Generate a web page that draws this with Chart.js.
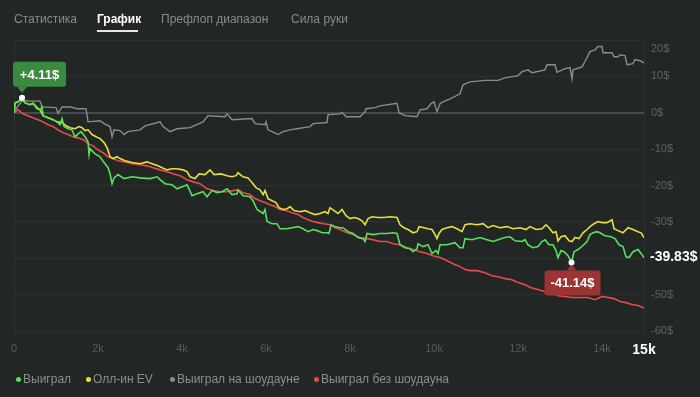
<!DOCTYPE html>
<html>
<head>
<meta charset="utf-8">
<script src="https://cdn.jsdelivr.net/npm/chart.js@4.4.1/dist/chart.umd.min.js"></script>
<style>
  body { margin: 0; background: #222726; font-family: "Liberation Sans", Arial, sans-serif; }
  #wrap { position: relative; width: 700px; height: 397px; overflow: hidden; }
  canvas { position: absolute; left: 0; top: 0; }
  .tab { position: absolute; top: 12px; font-size: 12px; color: #878c8a; white-space: nowrap; }
  .tab.active { color: #ffffff; font-weight: bold; }
  .underline { position: absolute; left: 97px; top: 30px; width: 41px; height: 2px; background: #e6e6e6; }
  .leg { position: absolute; top: 372px; font-size: 12px; color: #8a8f8d; white-space: nowrap; }
  .leg i { position: absolute; left: -7px; top: 5px; width: 5px; height: 5px; border-radius: 50%; }
</style>
</head>
<body>
<div id="wrap">
  <canvas id="graph" width="700" height="397"></canvas>
  <div class="tab" style="left:14px">Статистика</div>
  <div class="tab active" style="left:97px">График</div>
  <div class="underline"></div>
  <div class="tab" style="left:161px">Префлоп диапазон</div>
  <div class="tab" style="left:291px">Сила руки</div>
  <div class="leg" style="left:23px"><i style="background:#58e05b"></i>Выиграл</div>
  <div class="leg" style="left:93px"><i style="background:#e8de3e"></i>Олл-ин EV</div>
  <div class="leg" style="left:177px"><i style="background:#8c8c8c"></i>Выиграл на шоудауне</div>
  <div class="leg" style="left:321px"><i style="background:#e84a4c"></i>Выиграл без шоудауна</div>
</div>
<script>
// tick values
const xTicks = [0, 2000, 4000, 6000, 8000, 10000, 12000, 14000, 15000];
const yTicks = [-60, -50, -40, -30, -20, -10, 0, 10, 20];

// Выиграл (green)
const winHands = [0, 24, 95, 190, 262, 381, 452, 548, 619, 667, 690, 810, 929, 1024, 1095, 1143, 1190, 1286, 1381, 1452,
  1524, 1595, 1690, 1762, 1786, 1810, 1929, 2048, 2143, 2238, 2286, 2333, 2381, 2476, 2619, 2810, 3000, 3238, 3405, 3476,
  3595, 3762, 3881, 4024, 4119, 4238, 4357, 4500, 4595, 4714, 4833, 4952, 5071, 5190, 5310, 5333, 5452, 5619, 5690, 5786,
  5929, 5976, 6024, 6143, 6262, 6333, 6476, 6619, 6762, 6881, 7000, 7119, 7214, 7333, 7452, 7500, 7548, 7643, 7762, 7833,
  7952, 8071, 8190, 8310, 8357, 8405, 8548, 8714, 8881, 9024, 9119, 9190, 9310, 9429, 9500, 9595, 9619, 9738, 9857, 9952,
  10048, 10095, 10143, 10310, 10500, 10619, 10690, 10738, 10905, 11095, 11262, 11405, 11524, 11690, 11810, 11929, 12095, 12167, 12238, 12357,
  12476, 12571, 12643, 12738, 12833, 12905, 12952, 13024, 13095, 13190, 13274, 13333, 13429, 13548, 13643, 13714, 13786, 13881, 13952, 14071,
  14214, 14310, 14405, 14500, 14571, 14643, 14738, 14857, 14929, 15000];
const winValues = [0, 2.7, 3.0, 4.11, 2.7, 2.2, 2.6, 1.1, 0.8, 1.6, -0.8, -1.4, -1.9, -2.5, -3.3, -1.6, -3.8, -4.4, -4.7, -6.6,
  -5.8, -5.2, -6.6, -8.0, -11.5, -9.9, -11.3, -12.1, -13.7, -15.1, -16.8, -19.5, -17.9, -17.0, -18.1, -17.6, -17.9, -18.1, -17.6, -18.4,
  -19.5, -19.8, -20.9, -20.3, -19.8, -22.8, -22.3, -21.7, -23.1, -21.4, -22.0, -21.7, -20.9, -22.5, -22.3, -21.2, -22.8, -23.1, -24.2, -26.6,
  -27.7, -26.6, -29.9, -30.5, -30.5, -31.9, -31.9, -31.6, -31.3, -31.9, -32.7, -32.1, -32.4, -33.0, -33.0, -33.2, -30.8, -31.3, -31.6, -31.6,
  -32.7, -33.2, -34.3, -34.6, -35.4, -33.2, -33.5, -33.2, -33.2, -33.0, -33.2, -36.3, -37.1, -37.4, -38.2, -37.4, -36.0, -36.8, -36.3, -38.7,
  -37.9, -38.7, -36.3, -36.3, -35.7, -37.1, -37.1, -34.6, -34.9, -34.3, -34.9, -35.4, -34.9, -34.3, -34.1, -35.2, -35.4, -34.9, -36.3, -37.1,
  -36.8, -35.4, -34.9, -36.3, -36.3, -37.9, -39.8, -37.9, -38.2, -39.3, -41.14, -38.2, -37.6, -36.5, -35.4, -33.5, -33.0, -32.7, -33.0, -33.8,
  -34.1, -34.6, -36.3, -36.8, -39.6, -39.8, -38.2, -37.6, -38.7, -39.83];

// Олл-ин EV (yellow)
const evHands = [0, 24, 95, 190, 262, 381, 452, 548, 619, 690, 810, 929, 1024, 1143, 1238, 1333, 1452, 1548, 1619, 1690,
  1762, 1857, 1952, 2048, 2143, 2214, 2286, 2357, 2452, 2524, 2643, 2810, 3000, 3167, 3286, 3429, 3524, 3643, 3762, 3881,
  4024, 4119, 4190, 4310, 4405, 4548, 4667, 4762, 4929, 5071, 5190, 5286, 5333, 5452, 5571, 5643, 5690, 5762, 5857, 5929,
  5976, 6048, 6143, 6238, 6310, 6405, 6500, 6571, 6667, 6810, 6929, 7048, 7167, 7286, 7405, 7476, 7524, 7619, 7714, 7810,
  7905, 8000, 8095, 8190, 8286, 8357, 8429, 8524, 8667, 8810, 8952, 9119, 9190, 9286, 9381, 9500, 9595, 9643, 9762, 9857,
  9952, 10024, 10071, 10119, 10190, 10310, 10429, 10548, 10667, 10738, 10857, 11024, 11167, 11286, 11405, 11571, 11738, 11881, 12048, 12190,
  12286, 12429, 12571, 12667, 12738, 12833, 12905, 12952, 13024, 13119, 13214, 13286, 13357, 13452, 13548, 13643, 13714, 13810, 13905, 14000,
  14119, 14238, 14286, 14381, 14500, 14619, 14738, 14857, 14929, 15000];
const evValues = [0, 2.7, 3.0, 3.8, 2.7, 2.2, 2.6, 1.4, 0.8, -0.8, -1.4, -1.9, -2.5, -2.7, -3.6, -4.1, -4.4, -3.8, -4.1, -4.9,
  -4.7, -6.0, -6.6, -7.1, -8.2, -9.6, -12.1, -12.6, -12.1, -12.6, -13.2, -13.7, -14.0, -13.5, -14.0, -14.6, -15.1, -15.7, -15.4, -15.4,
  -15.7, -16.2, -17.6, -18.1, -16.8, -17.0, -15.7, -17.0, -16.8, -17.3, -17.6, -17.3, -16.5, -17.6, -17.9, -18.9, -19.5, -20.6, -21.2, -22.5,
  -21.4, -23.6, -24.2, -24.7, -26.1, -26.6, -26.4, -25.8, -26.9, -27.2, -26.9, -27.5, -28.0, -27.7, -27.2, -27.7, -26.1, -26.9, -27.7, -26.6,
  -28.3, -29.1, -28.8, -29.1, -29.7, -30.8, -29.1, -28.6, -28.8, -28.8, -28.6, -28.8, -30.8, -31.6, -32.1, -33.0, -32.7, -31.3, -31.6, -31.9,
  -32.1, -33.5, -34.6, -33.2, -32.1, -31.6, -31.3, -31.9, -32.7, -30.8, -30.5, -30.8, -30.5, -31.6, -31.0, -31.6, -31.3, -31.9, -31.6, -32.1,
  -31.3, -32.1, -31.9, -30.8, -31.6, -33.0, -32.7, -35.2, -34.1, -33.8, -35.2, -35.4, -34.3, -34.6, -33.0, -32.1, -31.3, -30.5, -29.9, -30.2,
  -30.2, -29.4, -31.9, -32.4, -33.0, -31.6, -32.1, -32.7, -33.0, -34.3];

// Выиграл на шоудауне (grey)
const sdHands = [0, 95, 214, 333, 619, 667, 1000, 1048, 1143, 1333, 1500, 1714, 1762, 2048, 2143, 2286, 2333, 2381, 2524, 2619,
  2714, 3000, 3119, 3476, 3548, 3714, 3881, 4190, 4500, 4619, 4714, 5024, 5071, 5190, 5667, 5738, 5976, 6000, 6048, 6143,
  6286, 6405, 6571, 6738, 7048, 7119, 7452, 7476, 7762, 7810, 7905, 8238, 8357, 8381, 8595, 8714, 9119, 9167, 9310, 9595,
  9667, 9833, 9929, 10000, 10071, 10143, 10214, 10381, 10619, 10690, 10857, 11214, 11524, 11690, 12000, 12095, 12238, 12333, 12643, 12690,
  12881, 12929, 13119, 13238, 13286, 13310, 13524, 13595, 13714, 13833, 13905, 14000, 14024, 14238, 14286, 14381, 14429, 14548, 14595, 14738,
  14786, 14905, 15000];
const sdValues = [0, 1.9, 3.5, 3.2, 3.2, 1.6, 1.4, -0.2, 1.6, 1.6, 1.1, 1.1, -2.5, -2.2, -3.0, -3.8, -6.6, -4.7, -4.9, -6.0,
  -5.2, -4.7, -3.6, -2.5, -3.8, -5.2, -4.4, -4.1, -2.5, -0.8, -0.9, -1.1, -0.3, -1.9, -1.6, -3.0, -3.3, -2.5, -4.7, -5.2,
  -6.0, -5.2, -4.7, -4.4, -3.8, -3.0, -2.7, -0.5, -0.3, 0.1, -1.1, -1.1, 0.3, 1.1, 1.4, 1.9, 2.6, 0, -0.8, -1.1,
  0.8, 1.1, 2.5, 3.0, 0.3, 2.5, 3.0, 3.8, 5.2, 7.7, 8.5, 8.9, 8.9, 9.6, 10.2, 11.3, 11.8, 11.0, 11.8, 13.2,
  13.2, 11.1, 12.1, 12.4, 9.3, 11.8, 12.6, 14.1, 16.8, 17.3, 18.2, 18.2, 16.5, 16.5, 15.4, 15.4, 15.9, 15.7, 13.2, 13.5,
  14.6, 14.3, 13.7];

// Выиграл без шоудауна (red)
const nsdHands = [0, 95, 214, 333, 452, 571, 690, 810, 929, 1048, 1167, 1286, 1405, 1524, 1643, 1762, 1881, 2000, 2119, 2238,
  2357, 2476, 2643, 2810, 3000, 3167, 3310, 3476, 3643, 3786, 3952, 4119, 4262, 4429, 4595, 4738, 4905, 5071, 5214, 5333,
  5452, 5619, 5738, 5857, 5976, 6095, 6214, 6333, 6476, 6619, 6762, 6881, 7000, 7119, 7238, 7381, 7524, 7643, 7762, 7929,
  8071, 8238, 8405, 8548, 8714, 8881, 9024, 9190, 9357, 9500, 9667, 9833, 9976, 10143, 10310, 10452, 10619, 10738, 10857, 11024,
  11214, 11381, 11524, 11690, 11857, 12000, 12167, 12310, 12476, 12643, 12810, 12952, 13119, 13286, 13476, 13667, 13833, 14000, 14143, 14286,
  14429, 14571, 14714, 14857, 15000];
const nsdValues = [0, 0.8, -0.3, -0.8, -1.4, -1.9, -2.5, -3.3, -3.8, -4.7, -5.5, -6.0, -6.6, -6.9, -7.4, -8.5, -9.1, -10.2, -11.0, -12.1,
  -12.6, -13.2, -13.5, -14.0, -14.3, -14.6, -15.1, -15.7, -16.2, -16.8, -17.3, -18.4, -19.0, -19.5, -20.9, -21.4, -21.7, -21.7, -21.4, -21.2,
  -22.0, -22.5, -23.6, -24.2, -24.7, -25.3, -25.8, -26.6, -26.9, -27.5, -28.0, -28.8, -29.4, -29.9, -30.2, -30.5, -30.8, -31.6, -32.1, -33.0,
  -33.5, -34.3, -34.6, -34.9, -35.4, -35.4, -36.0, -36.3, -37.1, -37.6, -38.2, -38.7, -39.3, -39.8, -40.7, -41.5, -42.3, -43.1, -43.4, -43.4,
  -44.0, -44.8, -45.1, -45.6, -45.9, -46.7, -47.3, -48.1, -48.6, -49.2, -49.5, -50.3, -50.5, -50.8, -50.8, -50.8, -51.4, -50.5, -50.8, -51.1,
  -51.9, -52.2, -52.7, -53.0, -53.7];

const toPoints = (xs, ys) => xs.map((x, i) => ({ x: x, y: ys[i] }));
const isLast = c => c.tick && c.tick.value === 15000;

// tooltips for best / worst point and final value label
const callouts = {
  id: 'callouts',
  afterDatasetsDraw(chart) {
    const { ctx, chartArea } = chart;
    const xs = chart.scales.x, ys = chart.scales.y;
    const hi = winValues.indexOf(Math.max(...winValues));
    const lo = winValues.indexOf(Math.min(...winValues));
    const fmt = v => (v > 0 ? '+' : '') + v.toFixed(2) + '$';

    ctx.save();
    ctx.font = 'bold 13px "Liberation Sans", Arial, sans-serif';
    ctx.textAlign = 'center';
    ctx.textBaseline = 'middle';

    // high point box (above, pointer bottom-left)
    let px = xs.getPixelForValue(winHands[hi]), py = ys.getPixelForValue(winValues[hi]);
    let bx = px - 9, by = py - 36, bw = 53, bh = 25;
    ctx.fillStyle = '#3b8a3e';
    ctx.beginPath(); ctx.roundRect(bx, by, bw, bh, 3); ctx.fill();
    ctx.beginPath(); ctx.moveTo(px - 5, by + bh); ctx.lineTo(px + 5, by + bh); ctx.lineTo(px, by + bh + 6); ctx.fill();
    ctx.fillStyle = '#ffffff';
    ctx.fillText(fmt(winValues[hi]), bx + bw / 2, by + bh / 2 + 1);
    ctx.beginPath(); ctx.arc(px, py, 3, 0, Math.PI * 2); ctx.fill();

    // low point box (below, pointer top)
    px = xs.getPixelForValue(winHands[lo]); py = ys.getPixelForValue(winValues[lo]);
    bw = 56; bh = 25; bx = px - bw / 2 + 1; by = py + 8;
    ctx.fillStyle = '#9c3434';
    ctx.beginPath(); ctx.roundRect(bx, by, bw, bh, 3); ctx.fill();
    ctx.beginPath(); ctx.moveTo(px - 5, by); ctx.lineTo(px + 5, by); ctx.lineTo(px, by - 6); ctx.fill();
    ctx.fillStyle = '#ffffff';
    ctx.fillText(fmt(winValues[lo]), bx + bw / 2, by + bh / 2 + 1);
    ctx.beginPath(); ctx.arc(px, py, 3, 0, Math.PI * 2); ctx.fill();

    // final value on the right axis
    const last = winValues[winValues.length - 1];
    ctx.textAlign = 'left';
    ctx.font = 'bold 14px "Liberation Sans", Arial, sans-serif';
    ctx.fillText(last.toFixed(2) + '$', chartArea.right + 6, ys.getPixelForValue(last));

    // top tick label sits a bit lower
    ctx.font = '11px "Liberation Sans", Arial, sans-serif';
    ctx.fillStyle = '#5f6462';
    ctx.fillText(yTicks[yTicks.length - 1] + '$', chartArea.right + 7, ys.getPixelForValue(yTicks[yTicks.length - 1]) + 9);
    ctx.restore();
  }
};

const ctx = document.getElementById('graph').getContext('2d');

new Chart(ctx, {
  type: 'line',
  data: {
    datasets: [
      { label: 'Выиграл', data: toPoints(winHands, winValues), borderColor: '#58e05b' },
      { label: 'Олл-ин EV', data: toPoints(evHands, evValues), borderColor: '#e8de3e' },
      { label: 'Выиграл без шоудауна', data: toPoints(nsdHands, nsdValues), borderColor: '#e84a4c' },
      { label: 'Выиграл на шоудауне', data: toPoints(sdHands, sdValues), borderColor: '#8c8c8c', borderWidth: 1.4 }
    ]
  },
  options: {
    responsive: false,
    animation: false,
    events: [],
    layout: { padding: { left: 14, top: 40, right: 0, bottom: 0 } },
    elements: {
      point: { radius: 0 },
      line: { borderWidth: 1.6, tension: 0 }
    },
    plugins: {
      legend: { display: false },
      tooltip: { enabled: false }
    },
    scales: {
      x: {
        type: 'linear',
        min: 0,
        max: 15000,
        afterBuildTicks: s => { s.ticks = xTicks.map(v => ({ value: v })); },
        afterFit: s => { s.height = 66; },
        grid: {
          drawTicks: false,
          color: c => (c.tick && c.tick.value === 0 ? '#2f3433' : 'transparent')
        },
        border: { display: false },
        ticks: {
          padding: 11,
          maxRotation: 0,
          autoSkip: false,
          color: c => (isLast(c) ? '#ffffff' : '#575c5a'),
          font: c => (isLast(c)
            ? { family: '"Liberation Sans", Arial', size: 14, weight: 'bold' }
            : { family: '"Liberation Sans", Arial', size: 11 }),
          callback: v => (v === 0 ? '0' : v / 1000 + 'k')
        }
      },
      y: {
        position: 'right',
        min: -60,
        max: 20,
        afterBuildTicks: s => { s.ticks = yTicks.map(v => ({ value: v })); },
        afterFit: s => { s.width = 56; },
        grid: {
          drawTicks: false,
          color: c => (c.tick && c.tick.value === 0 ? '#474c4b' : '#2d3231'),
          lineWidth: c => (c.tick && c.tick.value === 0 ? 2 : 1)
        },
        border: { display: true, color: '#2f3433' },
        ticks: {
          padding: 7,
          color: '#5f6462',
          font: { family: '"Liberation Sans", Arial', size: 11 },
          callback: v => (v === 20 || v === -40 ? '' : v + '$')
        }
      }
    }
  },
  plugins: [callouts]
});
</script>
</body>
</html>
